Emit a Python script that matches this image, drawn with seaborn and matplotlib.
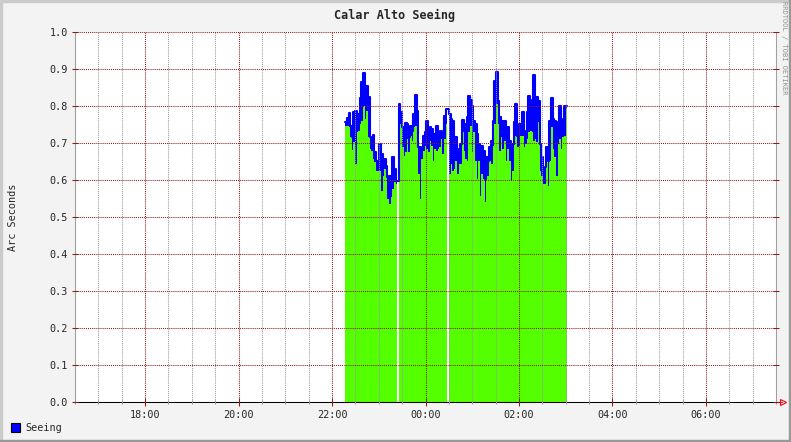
import numpy as np
import pandas as pd
import seaborn as sns
import matplotlib.pyplot as plt
import matplotlib.dates as mdates
from matplotlib.patches import Rectangle, Patch

nan = float("nan")

# ---------------------------------
# Data
# ---------------------------------
title = "Calar Alto Seeing"
y_label = "Arc Seconds"
legend_label = "Seeing"
credit = "RRDTOOL / TOBI OETIKER"

view_start = "2010-01-01 16:30"
view_end = "2010-01-02 07:30"
data_start = "2010-01-01 22:17"
data_end = "2010-01-02 03:02"

y_ticks = [0.0, 0.1, 0.2, 0.3, 0.4, 0.5, 0.6, 0.7, 0.8, 0.9, 1.0]

# seeing (top of the blue trace), arc seconds
seeing = [0.758, 0.768, 0.780, 0.747, 0.715, 0.785, 0.787, 0.768, 0.778, 0.821,
          0.864, 0.889, 0.841, 0.855, 0.823, 0.715, 0.706, 0.722, 0.675, 0.652,
          0.652, 0.697, 0.670, 0.652, 0.657, 0.639, 0.607, 0.612, 0.607, 0.661,
          0.630, 0.598, nan, 0.805, 0.783, 0.742, 0.733, 0.753, 0.751, 0.715,
          0.747, 0.733, 0.778, 0.831, 0.787, 0.688, 0.688, 0.684, 0.720, 0.729,
          0.760, 0.733, 0.742, 0.738, 0.706, 0.724, 0.747, 0.733, 0.715, 0.733,
          0.715, 0.774, 0.792, nan, 0.778, 0.765, 0.760, 0.684, 0.715, 0.679,
          0.684, 0.697, 0.762, 0.751, 0.715, 0.769, 0.828, 0.816, 0.801, 0.760,
          0.751, 0.724, 0.697, 0.675, 0.693, 0.679, 0.603, 0.661, 0.652, 0.688,
          0.706, 0.760, 0.868, 0.891, 0.814, 0.769, 0.751, 0.760, 0.760, 0.733,
          0.742, 0.706, 0.661, 0.697, 0.756, 0.805, 0.720, 0.751, 0.751, 0.783,
          0.733, 0.729, 0.783, 0.828, 0.783, 0.816, 0.885, 0.814, 0.823, 0.814,
          0.697, 0.661, 0.625, 0.634, 0.688, 0.652, 0.760, 0.822, 0.765, 0.760,
          0.711, 0.756, 0.801, 0.765, 0.762, 0.801, 0.801]

# lower envelope (top of the green area)
seeing_low = [0.745, 0.745, 0.742, 0.715, 0.681, 0.702, 0.643, 0.729, 0.733, 0.751,
              0.760, 0.801, 0.765, 0.787, 0.715, 0.684, 0.679, 0.657, 0.648, 0.625,
              0.625, 0.625, 0.571, 0.612, 0.630, 0.612, 0.549, 0.535, 0.553, 0.576,
              0.594, 0.589, nan, 0.756, 0.751, 0.688, 0.666, 0.675, 0.711, 0.675,
              0.720, 0.706, 0.742, 0.747, 0.688, 0.616, 0.549, 0.657, 0.679, 0.693,
              0.684, 0.675, 0.706, 0.693, 0.652, 0.684, 0.679, 0.684, 0.688, 0.711,
              0.670, 0.711, 0.751, nan, 0.616, 0.643, 0.625, 0.630, 0.652, 0.616,
              0.643, 0.643, 0.729, 0.679, 0.657, 0.652, 0.729, 0.747, 0.675, 0.729,
              0.652, 0.603, 0.652, 0.558, 0.616, 0.603, 0.540, 0.612, 0.612, 0.652,
              0.643, 0.693, 0.751, 0.805, 0.751, 0.679, 0.715, 0.684, 0.706, 0.652,
              0.684, 0.652, 0.598, 0.625, 0.697, 0.720, 0.690, 0.693, 0.720, 0.720,
              0.690, 0.697, 0.711, 0.729, 0.733, 0.729, 0.706, 0.711, 0.702, 0.756,
              0.625, 0.612, 0.589, 0.589, 0.652, 0.585, 0.652, 0.742, 0.684, 0.661,
              0.612, 0.697, 0.711, 0.684, 0.715, 0.720, 0.792]

# sample edges (step plot, one extra edge closes the last step)
edges = pd.date_range(data_start, data_end, periods=len(seeing) + 1)
df = pd.DataFrame({"time": edges,
                   "seeing": seeing + [seeing[-1]],
                   "low": seeing_low + [seeing_low[-1]]})

hi = np.nan_to_num(df["seeing"].to_numpy())
lo = np.nan_to_num(df["low"].to_numpy())

# ---------------------------------
# Style (rrdtool look)
# ---------------------------------
sns.set_style("white")
plt.rcParams["font.family"] = ["DejaVu Sans Mono"]

BACK = "#f3f3f3"
MGRID = "#8f1a1a"
GRID = "#9a9a9a"
GREEN = "#54ff00"
BLUE = "#0000ff"

W, H = 791, 442
fig = plt.figure(figsize=(W / 100, H / 100), dpi=100, facecolor=BACK)
ax = fig.add_axes([75 / W, 40 / H, 701 / W, 370 / H])
ax.set_facecolor("white")

ax.fill_between(df["time"], 0, lo, step="post", color=GREEN, lw=0, antialiased=False)
ax.fill_between(df["time"], lo, hi, step="post", color=BLUE, lw=0, antialiased=False)
# LINE2 on the seeing values (steps)
sns.lineplot(data=df, x="time", y="seeing", drawstyle="steps-post", color=BLUE,
             lw=1.5, estimator=None, ax=ax, legend=False)

ax.set_xlim(pd.Timestamp(view_start), pd.Timestamp(view_end))
ax.set_ylim(0, 1)
ax.set_yticks(y_ticks)
ax.yaxis.set_major_formatter(plt.FormatStrFormatter("%.1f"))
ax.xaxis.set_major_locator(mdates.HourLocator(byhour=range(0, 24, 2)))
ax.xaxis.set_minor_locator(mdates.MinuteLocator(byminute=[0, 30]))
ax.xaxis.set_major_formatter(mdates.DateFormatter("%H:%M"))
ax.set_xlabel("")
ax.set_ylabel("")

# dotted grid drawn on top of the data
ax.set_axisbelow(False)
ax.grid(which="major", axis="both", color=MGRID, linestyle=(0, (1, 1)), linewidth=0.75)
ax.grid(which="minor", axis="x", color=GRID, linestyle=(0, (1, 1)), linewidth=0.75)
for gl in ax.get_xgridlines() + ax.get_ygridlines():
    gl.set_zorder(3)

ax.tick_params(axis="y", which="major", direction="inout", length=4, width=0.75,
               color=MGRID, left=True, right=True, labelsize=7.3, pad=3)
ax.tick_params(axis="x", which="major", direction="inout", length=6, width=0.75,
               color=MGRID, bottom=True, labelsize=7.3, pad=3)
ax.tick_params(axis="x", which="minor", direction="inout", length=3, width=0.75,
               color=GRID, bottom=True)

ax.spines["top"].set_visible(False)
ax.spines["left"].set_color("#a0a0a0")
ax.spines["right"].set_color("#a0a0a0")
ax.spines["bottom"].set_color("#000000")
for s in ["left", "right", "bottom"]:
    ax.spines[s].set_linewidth(0.75)

# red arrow at the end of the time axis
ax.plot([1.0, 1.008], [0, 0], transform=ax.transAxes, color="red", lw=0.75, clip_on=False)
ax.plot([1.01], [0], transform=ax.transAxes, marker=">", ms=5, mfc="none", mec="red",
        mew=0.8, clip_on=False)

# texts
fig.text(395 / W, 1 - 15 / H, title, ha="center", va="center", fontsize=8.5,
         fontweight="bold")
fig.text(13 / W, 1 - 217 / H, y_label, rotation=90, ha="center", va="center", fontsize=7.3)
fig.text(784 / W, 1 - 48 / H, credit, rotation=270, ha="center", va="center",
         fontsize=5, color="#909090")

fig.legend(handles=[Patch(facecolor=BLUE, edgecolor="black", linewidth=0.8, label=legend_label)],
           loc="center left", bbox_to_anchor=(2 / W, 1 - 428 / H), frameon=False,
           handlelength=0.9, handleheight=0.9, handletextpad=0.5, fontsize=7.3)

# 3d frame
fig.patches.append(Rectangle((0, 1 - 2 / H), 1, 2 / H, transform=fig.transFigure, color="#cbcbcb"))
fig.patches.append(Rectangle((0, 0), 2 / W, 1, transform=fig.transFigure, color="#cbcbcb"))
fig.patches.append(Rectangle((0, 0), 1, 2 / H, transform=fig.transFigure, color="#999999"))
fig.patches.append(Rectangle((1 - 2 / W, 0), 2 / W, 1, transform=fig.transFigure, color="#999999"))

fig.savefig("out.png", dpi=100, facecolor=BACK)
